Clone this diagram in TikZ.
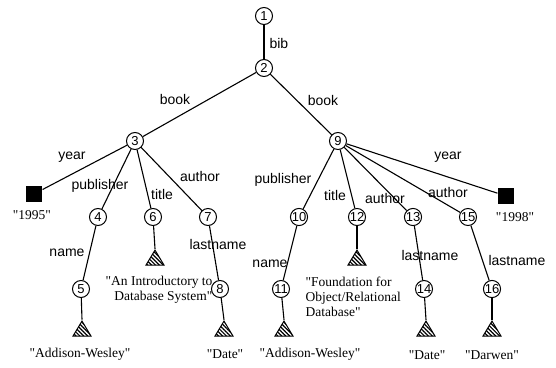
\documentclass[tikz,border=0pt]{standalone}
\usepackage{fontspec}
\setmainfont{Liberation Serif}[Ligatures=TeXOff]
\newfontfamily\labfont{Liberation Sans}
\usetikzlibrary{shapes.geometric,patterns.meta}

\begin{document}
\begin{tikzpicture}[x=1pt, y=-1pt, line width=1.1pt,
    elem/.style={circle, draw, line width=1pt, minimum size=17pt, inner sep=0pt,
      font=\labfont\fontsize{13}{13}\selectfont},
    atom/.style={rectangle, fill=black, minimum size=16pt, inner sep=0pt},
    strleaf/.style={isosceles triangle, isosceles triangle stretches, shape border rotate=90,
      draw, line width=1pt, minimum width=18pt, minimum height=15pt, inner sep=0pt,
      pattern={Lines[angle=-45, distance=2.8pt, line width=1.2pt]}},
    tag/.style={font=\labfont\fontsize{14}{14}\selectfont, inner sep=1pt},
    val/.style={font=\fontsize{13.5}{15}\selectfont, inner sep=0pt}]
  \useasboundingbox (0,0) rectangle (556,367);

  % Element nodes
  \node[elem] (n1) at (264,16) {1};
  \node[elem] (n2) at (264,68) {2};
  \node[elem] (n3) at (135,141) {3};
  \node[elem] (n9) at (338,141) {9};
  \node[elem] (n4) at (98,217) {4};
  \node[elem] (n6) at (153,217) {6};
  \node[elem] (n7) at (208,217) {7};
  \node[elem] (n5) at (81,289) {5};
  \node[elem] (n8) at (220,289) {8};
  \node[elem] (n10) at (299,217) {10};
  \node[elem] (n12) at (357,217) {12};
  \node[elem] (n13) at (413,217) {13};
  \node[elem] (n15) at (468,217) {15};
  \node[elem] (n11) at (281,289) {11};
  \node[elem] (n14) at (424,289) {14};
  \node[elem] (n16) at (492,289) {16};

  % Atomic values
  \node[atom] (s3) at (34,194) {};
  \node[atom] (s9) at (506,196) {};
  \node[strleaf] (t5) at (82,331) {};
  \node[strleaf] (t6) at (155,260) {};
  \node[strleaf] (t8) at (224,331) {};
  \node[strleaf] (t11) at (284,331) {};
  \node[strleaf] (t12) at (357,260) {};
  \node[strleaf] (t14) at (426,331) {};
  \node[strleaf] (t16) at (492,331) {};

  % Edges
  \draw (n1) -- (n2);
  \draw (n2) -- (n3);
  \draw (n2) -- (n9);
  \draw (n3) -- (s3);
  \draw (n3) -- (n4);
  \draw (n3) -- (n6);
  \draw (n3) -- (n7);
  \draw (n4) -- (n5);
  \draw (n5) -- (t5.apex);
  \draw (n6) -- (t6.apex);
  \draw (n7) -- (n8);
  \draw (n8) -- (t8.apex);
  \draw (n9) -- (n10);
  \draw (n9) -- (n12);
  \draw (n9) -- (n13);
  \draw (n9) -- (n15);
  \draw (n9) -- (s9);
  \draw (n10) -- (n11);
  \draw (n11) -- (t11.apex);
  \draw (n12) -- (t12.apex);
  \draw (n13) -- (n14);
  \draw (n14) -- (t14.apex);
  \draw (n15) -- (n16);
  \draw (n16) -- (t16.apex);

  % Edge labels
  \node[tag, anchor=west] (lbib) at (268,43) {bib};
  \node[tag] (lbook1) at (175,99) {book};
  \node[tag] (lbook2) at (323,100) {book};
  \node[tag] (lyear1) at (72,157) {year};
  \node[tag] (lyear2) at (448,157) {year};
  \node[tag] (lpub1) at (100,186) {publisher};
  \node[tag] (ltitle1) at (162,194) {title};
  \node[tag] (lauth1) at (200,176) {author};
  \node[tag] (lname1) at (67,253) {name};
  \node[tag] (llast1) at (218,244) {lastname};
  \node[tag] (lpub2) at (283,180) {publisher};
  \node[tag] (ltitle2) at (335,195) {title};
  \node[tag] (lauth2) at (385,198) {author};
  \node[tag] (lauth3) at (448,192) {author};
  \node[tag] (lname2) at (270,264) {name};
  \node[tag] (llast2) at (430,255) {lastname};
  \node[tag] (llast3) at (517,260) {lastname};

  % Values
  \node[val] (v1995) at (32,215) {"1995"};
  \node[val] (v1998) at (515,217) {"1998"};
  \node[val, align=right, anchor=east] (vtitle1) at (213,290) {"An Introductory to\\Database System"};
  \node[val, align=left, anchor=west] (vtitle2) at (305,297) {"Foundation for\\Object/Relational\\Database"};
  \node[val] (vpub1) at (80,354) {"Addison-Wesley"};
  \node[val] (vlast1) at (225,354) {"Date"};
  \node[val] (vpub2) at (310,354) {"Addison-Wesley"};
  \node[val] (vlast2) at (427,355) {"Date"};
  \node[val] (vlast3) at (492,355) {"Darwen"};
\end{tikzpicture}
\end{document}
